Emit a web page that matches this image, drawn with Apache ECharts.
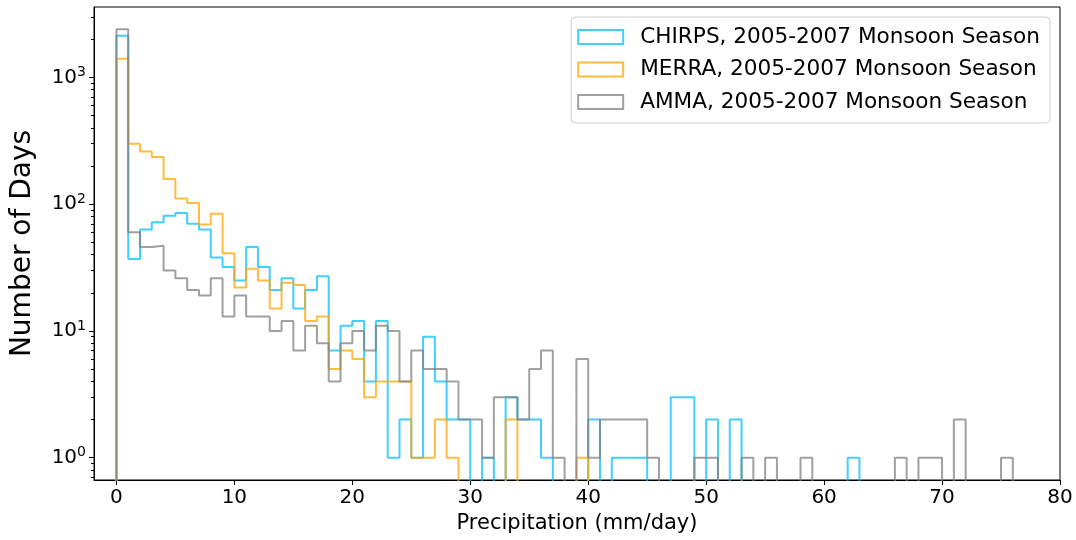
<!DOCTYPE html>
<html>
<head>
<meta charset="utf-8">
<script src="https://cdn.jsdelivr.net/npm/echarts@6/dist/echarts.min.js"></script>
<style>
html,body{margin:0;padding:0;background:#fff;}
#chart{width:1076px;height:540px;}
</style>
</head>
<body>
<div id="chart"></div>
<script>
// Histogram counts per 1 mm/day bin, starting at 0 mm/day
const binWidth = 1;
const chirpsCounts = [2130, 37, 63, 72, 81, 85, 70, 63, 38, 32,
  25, 46, 32, 21, 26, 15, 21, 27, 7, 11,
  12, 4, 12, 1, 2, 1, 9, 4, 2, 2,
  0, 1, 0, 3, 2, 2, 1, 0, 0, 0,
  2, 0, 1, 1, 1, 0, 0, 3, 3, 0,
  2, 0, 2, 0, 0, 0, 0, 0, 0, 0,
  0, 0, 1];
const merraCounts = [1400, 300, 260, 235, 158, 111, 102, 69, 84, 41,
  22, 31, 25, 15, 24, 23, 12, 13, 5, 7,
  6, 3, 4, 4, 4, 1, 1, 2, 1, 0,
  0, 0, 0, 2, 0, 0, 0, 0, 0, 1];
const ammaCounts = [2400, 60, 46, 47, 30, 26, 21, 19, 26, 13,
  19, 13, 13, 10, 12, 7, 11, 8, 4, 8,
  10, 7, 11, 10, 4, 7, 5, 5, 4, 2,
  2, 1, 3, 3, 2, 5, 7, 1, 0, 6,
  1, 2, 2, 2, 2, 1, 0, 0, 0, 1,
  1, 0, 0, 1, 0, 1, 0, 0, 1, 0,
  0, 0, 0, 0, 0, 0, 1, 0, 1, 1,
  0, 2, 0, 0, 0, 1];
const seriesNames = ['CHIRPS, 2005-2007 Monsoon Season', 'MERRA, 2005-2007 Monsoon Season', 'AMMA, 2005-2007 Monsoon Season'];
const xTickValues = [0, 10, 20, 30, 40, 50, 60, 70, 80];
const yTickValues = [1, 10, 100, 1000];
const yMinorTickValues = [0.7, 0.8, 0.9, 2, 3, 4, 5, 6, 7, 8, 9, 20, 30, 40, 50, 60, 70, 80, 90, 200, 300, 400, 500, 600, 700, 800, 900, 2000, 3000];

const colors = ['rgba(0,191,255,0.75)', 'rgba(255,165,0,0.75)', 'rgba(128,128,128,0.75)'];
const FONT = 'DejaVu Sans';
const FLOOR = 0.05; // stands in for an empty bin (below the visible log range)

function stepOutline(counts) {
  const pts = [[0, FLOOR]];
  counts.forEach((c, i) => pts.push([i * binWidth, c > 0 ? c : FLOOR]));
  const n = counts.length;
  const last = counts[n - 1] > 0 ? counts[n - 1] : FLOOR;
  pts.push([n * binWidth, last]);
  pts.push([n * binWidth, FLOOR]);
  return pts;
}

const allCounts = [chirpsCounts, merraCounts, ammaCounts];

const chart = echarts.init(document.getElementById('chart'), null, {renderer: 'canvas'});
const option = {
  animation: false,
  backgroundColor: '#fff',
  textStyle: {fontFamily: FONT},
  grid: {left: 94, right: 16, top: 7, bottom: 60, show: true, borderColor: '#000', borderWidth: 1, backgroundColor: 'transparent', outerBoundsMode: 'none'},
  legend: {
    orient: 'vertical',
    right: 26,
    top: 17,
    itemWidth: 45,
    itemHeight: 14,
    itemGap: 10.5,
    padding: [9, 10, 10, 6],
    backgroundColor: '#fff',
    borderColor: '#cccccc',
    borderWidth: 1,
    borderRadius: 4,
    textStyle: {fontFamily: FONT, fontSize: 21.6, color: '#000', lineHeight: 22, padding: [0, 0, 0, 12]},
    data: seriesNames.map((n, i) => ({
      name: n,
      icon: 'rect',
      itemStyle: {color: 'rgba(255,255,255,0)', borderColor: colors[i], borderWidth: 2}
    }))
  },
  xAxis: {
    type: 'value',
    min: -1.9,
    max: 80,
    splitLine: {show: false},
    axisLine: {show: true, onZero: false, lineStyle: {color: '#000', width: 1}},
    axisTick: {show: true, length: 5, customValues: xTickValues, lineStyle: {color: '#000'}},
    axisLabel: {customValues: xTickValues, fontSize: 20, color: '#000', margin: 8, fontFamily: FONT},
    name: 'Precipitation (mm/day)',
    nameLocation: 'middle',
    nameGap: 33,
    nameTextStyle: {fontSize: 21, color: '#000', fontFamily: FONT}
  },
  yAxis: [{
    type: 'log',
    logBase: 10,
    min: 0.667,
    max: 3590,
    splitLine: {show: false},
    axisLine: {show: true, onZero: false, lineStyle: {color: '#000', width: 1}},
    axisTick: {show: true, length: 5, customValues: yTickValues, lineStyle: {color: '#000'}},
    axisLabel: {
      customValues: yTickValues,
      margin: 8,
      color: '#000',
      formatter: v => '{b|10}{s|' + Math.round(Math.log10(v)) + '}',
      rich: {
        b: {fontSize: 20, fontFamily: FONT, color: '#000', lineHeight: 24},
        s: {fontSize: 14, fontFamily: FONT, color: '#000', verticalAlign: 'top', lineHeight: 24, padding: [0, 0, 10, 0]}
      }
    },
    name: 'Number of Days',
    nameLocation: 'middle',
    nameGap: 57,
    nameTextStyle: {fontSize: 28, color: '#000', fontFamily: FONT}
  }, {
    type: 'log',
    logBase: 10,
    min: 0.667,
    max: 3590,
    position: 'left',
    splitLine: {show: false},
    axisLine: {show: false, onZero: false},
    axisTick: {show: true, length: 3, customValues: yMinorTickValues, lineStyle: {color: '#000'}},
    axisLabel: {show: false}
  }],
  series: allCounts.map((counts, i) => ({
    name: seriesNames[i],
    type: 'line',
    step: 'end',
    showSymbol: false,
    symbol: 'none',
    clip: true,
    yAxisIndex: 0,
    data: stepOutline(counts),
    lineStyle: {color: colors[i], width: 2},
    itemStyle: {color: colors[i]},
    z: 2 + i
  }))
};
chart.setOption(option);
</script>
</body>
</html>
